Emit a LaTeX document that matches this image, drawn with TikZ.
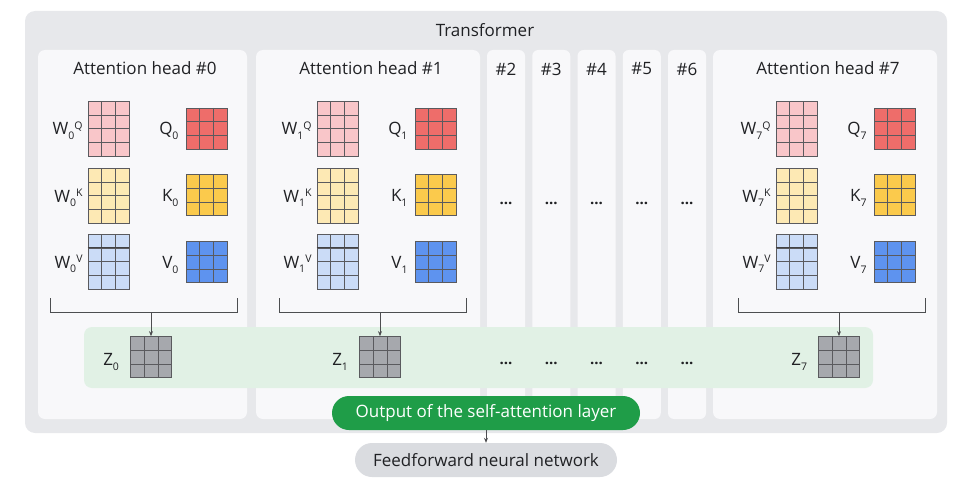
\documentclass[tikz,border=0pt]{standalone}
\usepackage{fontspec}
\setmainfont{Open Sans}
\usetikzlibrary{calc,arrows.meta,positioning}

\definecolor{outerc}{HTML}{E7E8EB}
\definecolor{panelc}{HTML}{F8F8FA}
\definecolor{inkc}{HTML}{202124}
\definecolor{gridc}{HTML}{5A5A5E}
\definecolor{wqc}{HTML}{F9C6C9}
\definecolor{qc}{HTML}{EE6D6A}
\definecolor{wkc}{HTML}{FDE9B4}
\definecolor{kc}{HTML}{FBCA4C}
\definecolor{wvc}{HTML}{CBDCF7}
\definecolor{vc}{HTML}{5E93EF}
\definecolor{zc}{HTML}{A6A8AD}
\definecolor{bandc}{HTML}{E1F1E5}
\definecolor{outc}{HTML}{1F9D48}
\definecolor{ffc}{HTML}{DADCE0}

% letter with subscript and superscript
\newcommand{\lab}[3]{#1\raisebox{-4.5pt}{\fontsize{10.5}{10}\selectfont #2}\raisebox{5.5pt}{\fontsize{10.5}{10}\selectfont #3}}

\tikzset{
  txt/.style={font=\fontsize{17}{20}\selectfont, text=inkc, inner sep=0pt},
  dots/.style={font=\fontsize{15}{15}\selectfont\bfseries, text=inkc, inner sep=0pt},
  mat/.style={draw=gridc, line width=.6pt, inner sep=0pt, minimum width=41pt,
    minimum height=#1*13.7pt,
    path picture={
      \foreach \f in {1,2}
        \draw[gridc, line width=.6pt] ($(path picture bounding box.north west)!\f/3!(path picture bounding box.north east)$) -- ($(path picture bounding box.south west)!\f/3!(path picture bounding box.south east)$);
      \foreach \r in {1,...,#1}
        \draw[gridc, line width=.6pt] ($(path picture bounding box.north west)!\r/#1!(path picture bounding box.south west)$) -- ($(path picture bounding box.north east)!\r/#1!(path picture bounding box.south east)$);
    }},
  pill/.style={font=\fontsize{17}{20}\selectfont, inner sep=0pt, minimum height=34pt, rounded corners=17pt},
  arr/.style={draw=inkc!80, line width=.7pt, -{Stealth[length=5pt,width=4pt]}},
}

\begin{document}
\begin{tikzpicture}[x=1pt,y=-1pt]
\useasboundingbox (0,0) rectangle (959,487);
% transformer block
\fill[outerc, rounded corners=10pt] (25,11) rectangle (947,433);
\node[txt] (tr) at (485,30) {Transformer};
% heads
\fill[panelc, rounded corners=7pt] (38,50) rectangle (247,419);
\fill[panelc, rounded corners=7pt] (256,50) rectangle (480,419);
\fill[panelc, rounded corners=7pt] (713,50) rectangle (937,419);
\foreach \k in {2,...,6} {
  \fill[panelc, rounded corners=6pt] ({487+45.25*(\k-2)},50) rectangle ++(38,369);
  \node[txt] (h\k) at ({506+45.25*(\k-2)},69) {\#\k};
  \node[dots] (d\k) at ({506+45.25*(\k-2)},203) {...};
}
% outputs
\fill[bandc, rounded corners=8pt] (84,327) rectangle (873,388);
\foreach \k in {2,...,6}
  \node[dots] (e\k) at ({506+45.25*(\k-2)},363) {...};

\foreach \n/\d/\c in {0/0/145, 1/229/371, 7/688/828} {
  \node[txt] (t\n) at (\c,68) {Attention head \#\n};
  \node[mat=4, fill=wqc] (wq\n) at (\d+108.5,128.5) {};
  \node[mat=3, fill=qc] (q\n) at (\d+206.5,128.5) {};
  \node[mat=4, fill=wkc] (wk\n) at (\d+108.5,195.5) {};
  \node[mat=3, fill=kc] (k\n) at (\d+206.5,195) {};
  \node[mat=4, fill=wvc] (wv\n) at (\d+108.5,261.5) {};
  \node[mat=3, fill=vc] (v\n) at (\d+206.5,262) {};
  \draw[inkc!85, line width=1pt] ($(wv\n.north west)!.25!(wv\n.south west)$) -- ($(wv\n.north east)!.25!(wv\n.south east)$);
  \node[txt, anchor=base east] (lwq\n) at ([xshift=-5pt,yshift=-6.5pt]wq\n.west) {\lab{W}{\n}{Q}};
  \node[txt, anchor=base east] (lwk\n) at ([xshift=-5pt,yshift=-6.5pt]wk\n.west) {\lab{W}{\n}{K}};
  \node[txt, anchor=base east] (lwv\n) at ([xshift=-5pt,yshift=-6.5pt]wv\n.west) {\lab{W}{\n}{V}};
  \node[txt, anchor=base east] (lq\n) at ([xshift=-7pt,yshift=-6.5pt]q\n.west) {\lab{Q}{\n}{}};
  \node[txt, anchor=base east] (lk\n) at ([xshift=-7pt,yshift=-6.5pt]k\n.west) {\lab{K}{\n}{}};
  \node[txt, anchor=base east] (lv\n) at ([xshift=-7pt,yshift=-6.5pt]v\n.west) {\lab{V}{\n}{}};
  % bracket and Z
  \draw[inkc!80, line width=.8pt] (\d+50,298) -- (\d+50,312) -- (\d+237,312) -- (\d+237,298);
  \coordinate (b\n) at (\d+151,312);
  \node[mat=3, fill=zc] (z\n) at (\d+151,357) {};
  \draw[arr] (b\n) -- (z\n);
  \node[txt, anchor=base east] (lz\n) at ([xshift=-11pt,yshift=-8.5pt]z\n.west) {\lab{Z}{\n}{}};
}

\node[pill, fill=outc, text=white, minimum width=308pt] (out) at (486,413) {Output of the self-attention layer};
\node[pill, fill=ffc, text=inkc, minimum width=262pt] (ff) at (486,460) {Feedforward neural network};
\draw[arr] (out) -- (ff);
\end{tikzpicture}
\end{document}
